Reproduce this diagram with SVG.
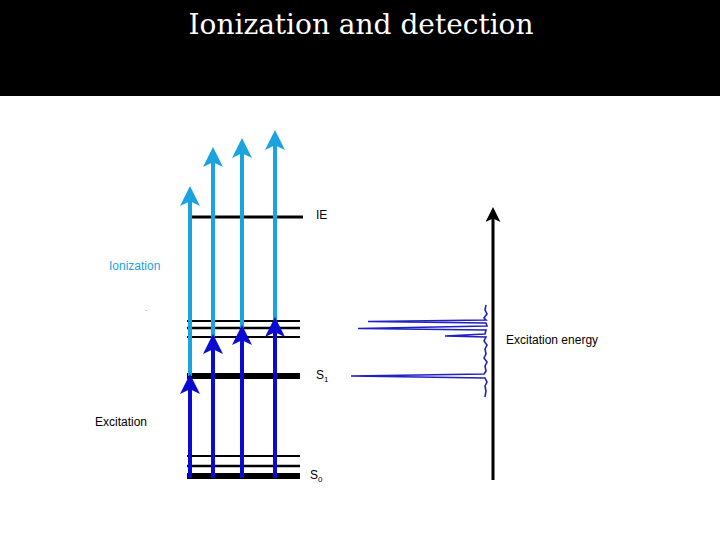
<svg xmlns="http://www.w3.org/2000/svg" width="720" height="540" viewBox="0 0 720 540">
<defs>
<style>
.lv{stroke:#000}
.t{font-family:"Liberation Sans",Arial,sans-serif;font-size:12px}
.lb{stroke:#1aa3de;stroke-width:4;fill:none}
.db{stroke:#0a0ad2;stroke-width:4;fill:none}
</style>
<marker id="ml" markerWidth="5" markerHeight="5" refX="3" refY="2.5" orient="auto" markerUnits="strokeWidth" viewBox="0 0 5 5"><path d="M0,0 L5,2.5 L0,5 L1.2,2.5Z" fill="#1aa3de"/></marker>
<marker id="md" markerWidth="5" markerHeight="5" refX="3" refY="2.5" orient="auto" markerUnits="strokeWidth" viewBox="0 0 5 5"><path d="M0,0 L5,2.5 L0,5 L1.2,2.5Z" fill="#0a0ad2"/></marker>
<marker id="mk" markerWidth="5" markerHeight="5" refX="3" refY="2.5" orient="auto" markerUnits="strokeWidth" viewBox="0 0 5 5"><path d="M0,0 L5,2.5 L0,5 L1.2,2.5Z" fill="#000"/></marker>
</defs>
<rect width="720" height="540" fill="#fff"/>
<g id="title"><rect width="720" height="96" fill="#000"/><text x="361" y="34" text-anchor="middle" font-family="'DejaVu Serif','Liberation Serif',serif" font-size="28" fill="#fff">Ionization and detection</text></g>
<g id="levels">
<line class="lv" x1="190" y1="217" x2="303" y2="217" stroke-width="3"/>
<line class="lv" x1="187" y1="321" x2="300" y2="321" stroke-width="2"/>
<line class="lv" x1="187" y1="328" x2="300" y2="328" stroke-width="2.5"/>
<line class="lv" x1="187" y1="337" x2="300" y2="337" stroke-width="2"/>
<line class="lv" x1="187" y1="376" x2="300" y2="376" stroke-width="6"/>
<line class="lv" x1="187" y1="456" x2="300" y2="456" stroke-width="2"/>
<line class="lv" x1="187" y1="466" x2="300" y2="466" stroke-width="2.5"/>
<line class="lv" x1="187" y1="476" x2="300" y2="476" stroke-width="6"/>
</g>
<g id="connectors">
<line class="lb" x1="190" y1="376" x2="190" y2="194" marker-end="url(#ml)"/>
<line class="lb" x1="213" y1="337" x2="213" y2="155" marker-end="url(#ml)"/>
<line class="lb" x1="242" y1="328" x2="242" y2="146" marker-end="url(#ml)"/>
<line class="lb" x1="275" y1="321" x2="275" y2="138" marker-end="url(#ml)"/>
<line class="db" x1="190" y1="478" x2="190" y2="382" marker-end="url(#md)"/>
<line class="db" x1="213" y1="478" x2="213" y2="342" marker-end="url(#md)"/>
<line class="db" x1="242" y1="478" x2="242" y2="333" marker-end="url(#md)"/>
<line class="db" x1="275" y1="478" x2="275" y2="325" marker-end="url(#md)"/>
<line x1="493" y1="480" x2="493" y2="213" stroke="#000" stroke-width="3" marker-end="url(#mk)"/>
</g>
<g id="spectrum" fill="none" stroke="#2020c0" stroke-width="1.6">
<path d="M486,305 L485,310 L487,314 L484,318 L486,320 L368,321.5 L486,323 L487,326 L358,328.5 L486,330 L485,334 L445,336 L486,337 L484,341 L487,345 L485,349 L486,354 L484,358 L487,362 L485,366 L486,371 L484,374 L351,376 L485,378 L487,382 L485,386 L486,391 L485,397"/>
</g>
<g id="labels" class="t">
<text x="316" y="219">IE</text>
<text x="109" y="270" fill="#1aa3de">Ionization</text>
<text x="145" y="311" font-size="8" fill="#666">.</text>
<text x="506" y="344">Excitation energy</text>
<text x="316" y="379">S<tspan font-size="8" dy="3">1</tspan></text>
<text x="95" y="426">Excitation</text>
<text x="310" y="479">S<tspan font-size="8" dy="3">0</tspan></text>
</g>
</svg>
